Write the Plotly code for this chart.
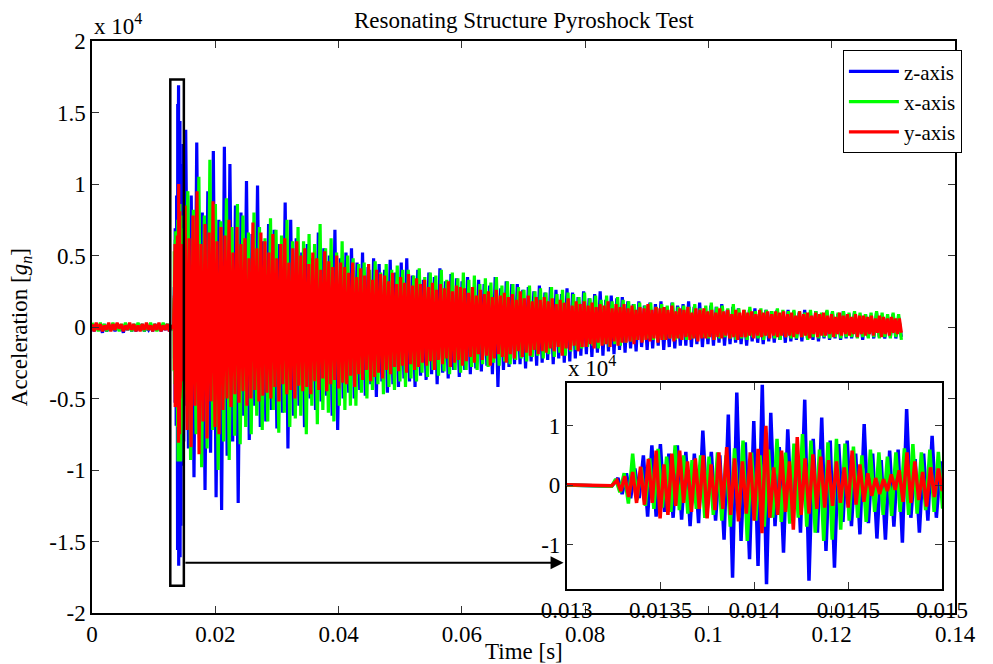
import numpy as np
import plotly.graph_objects as go

# ---------------- data (acceleration in units of 10^4 g_n) ----------------
# pre-trigger noise, 0 .. 0.01324 s
z_pre = [0.01,-0.03,0.02,-0.02,0.01,-0.04,0.02,-0.03,0.00,-0.02,0.02,-0.03,0.01,-0.02,0.01,-0.04,0.02,-0.02,0.01,-0.03,
         0.02,-0.03,0.01,-0.02,0.02,-0.03,0.00,-0.02,0.01,-0.03,0.02,-0.02,0.01,-0.03,0.01,-0.02,0.02,-0.03,0.01,-0.02]
x_pre = [0.03,-0.02,0.02,-0.03,0.03,-0.01,0.02,-0.03,0.01,-0.02,0.03,-0.02,0.02,-0.03,0.02,-0.01,0.03,-0.02,0.01,-0.03,
         0.02,-0.02,0.03,-0.01,0.02,-0.03,0.01,-0.02,0.03,-0.02,0.02,-0.03,0.01,-0.02,0.03,-0.01,0.02,-0.02,0.01,-0.02]
y_pre = [0.02,-0.03,0.03,-0.02,0.02,-0.03,0.01,-0.02,0.03,-0.03,0.02,-0.02,0.03,-0.01,0.02,-0.03,0.01,-0.02,0.03,-0.02,
         0.02,-0.03,0.01,-0.03,0.02,-0.02,0.03,-0.02,0.01,-0.03,0.02,-0.02,0.03,-0.03,0.01,-0.02,0.02,-0.03,0.01,-0.01]

# shock onset, ~0.01326 .. 0.015 s (peak / trough sequence)
z_burst = [0.12,-0.15,0.20,-0.22,0.28,-0.22,0.50,-0.53,0.67,-0.53,
           0.69,-0.45,0.53,-0.55,0.67,-0.58,0.56,-0.69,0.53,-0.64,
           0.92,-0.45,0.56,-0.60,0.50,-0.92,1.19,-1.56,1.56,-0.94,
           0.72,-1.25,1.08,-1.36,1.69,-1.67,1.22,-0.69,0.64,-1.14,
           0.94,-0.60,0.69,-0.80,1.44,-1.61,0.78,-0.80,1.14,-1.11,
           0.75,-1.39,0.69,-0.62,0.75,-0.69,0.53,-0.83,1.03,-0.64,
           0.53,-0.90,0.42,-0.92,0.58,-0.70,0.60,-0.97,1.28,-0.55,
           0.44,-0.80,0.53,-0.60,0.83,-0.55,0.40,-0.45]
x_burst = [0.10,-0.12,0.20,-0.31,0.53,-0.25,0.30,-0.35,0.45,-0.40,
           0.61,-0.38,0.48,-0.45,0.67,-0.42,0.50,-0.48,0.42,-0.40,
           0.50,-0.55,0.48,-0.50,0.55,-0.60,0.50,-0.70,0.62,-0.55,
           0.75,-0.94,0.55,-0.60,0.50,-0.70,0.60,-0.55,0.78,-0.62,
           0.55,-0.65,0.70,-0.55,0.86,-0.70,0.75,-0.80,0.60,-0.94,
           0.72,-0.92,0.78,-0.75,0.70,-0.60,0.65,-0.55,0.50,-0.62,
           0.60,-0.45,0.55,-0.50,0.48,-0.52,0.55,-0.45,0.62,-0.50,
           0.69,-0.48,0.55,-0.42,0.60,-0.45,0.56,-0.39]
y_burst = [0.08,-0.10,0.15,-0.20,0.22,-0.30,0.31,-0.33,0.44,-0.30,
           0.58,-0.56,0.35,-0.50,0.53,-0.35,0.58,-0.30,0.40,-0.45,
           0.45,-0.40,0.50,-0.56,0.35,-0.42,0.55,-0.40,0.64,-0.50,
           0.45,-0.61,0.40,-0.48,0.55,-0.60,0.61,-0.81,1.00,-0.55,
           0.30,-0.50,0.58,-0.45,0.40,-0.75,0.81,-0.50,0.45,-0.48,
           0.52,-0.40,0.48,-0.38,0.42,-0.35,0.40,-0.30,0.30,-0.38,
           0.58,-0.33,0.35,-0.28,0.20,-0.18,0.12,-0.15,0.10,-0.10,
           0.18,-0.08,0.25,-0.28,0.55,-0.30,0.40,-0.25,0.22,-0.36,
           0.30,-0.20,0.28,-0.10]

# decay, ~0.015 .. 0.1313 s
z_decay = [1.38,-0.85,0.92,-1.05,1.29,-0.78,0.80,-1.14,0.95,-0.88,1.23,-1.19,0.75,-1.28,1.26,-0.90,1.14,-0.80,0.85,-1.23,
           0.80,-0.62,1.02,-0.79,0.65,-0.55,0.99,-0.70,0.60,-0.66,0.72,-0.58,0.68,-0.71,0.58,-0.60,0.87,-0.85,0.75,-0.62,
           0.62,-0.55,0.52,-0.70,0.58,-0.50,0.48,-0.58,0.66,-0.52,0.55,-0.48,0.50,-0.62,0.68,-0.72,0.48,-0.50,0.52,-0.46,
           0.55,-0.50,0.45,-0.44,0.52,-0.48,0.42,-0.40,0.48,-0.49,0.44,-0.38,0.40,-0.46,0.47,-0.40,0.38,-0.42,0.45,-0.36,
           0.48,-0.38,0.36,-0.42,0.40,-0.34,0.33,-0.37,0.38,-0.33,0.35,-0.40,0.41,-0.32,0.32,-0.36,0.37,-0.30,0.34,-0.35,
           0.32,-0.30,0.35,-0.33,0.28,-0.29,0.33,-0.31,0.30,-0.27,0.29,-0.33,0.35,-0.42,0.27,-0.30,0.32,-0.28,0.30,-0.26,
           0.30,-0.26,0.26,-0.29,0.28,-0.24,0.25,-0.27,0.29,-0.25,0.24,-0.23,0.28,-0.26,0.26,-0.22,0.23,-0.25,0.27,-0.24,
           0.24,-0.22,0.21,-0.20,0.25,-0.19,0.20,-0.21,0.23,-0.18,0.25,-0.20,0.19,-0.17,0.22,-0.19,0.20,-0.16,0.21,-0.18,
           0.18,-0.15,0.16,-0.17,0.18,-0.14,0.15,-0.16,0.17,-0.15,0.16,-0.13,0.18,-0.16,0.14,-0.14,0.17,-0.15,0.15,-0.13,
           0.16,-0.13,0.18,-0.14,0.14,-0.12,0.17,-0.14,0.13,-0.12,0.15,-0.13,0.14,-0.11,0.16,-0.13,0.12,-0.12,0.14,-0.11,
           0.13,-0.12,0.11,-0.13,0.12,-0.10,0.13,-0.11,0.10,-0.12,0.12,-0.10,0.11,-0.11,0.12,-0.09,0.10,-0.11,0.12,-0.10,
           0.11,-0.09,0.10,-0.10,0.12,-0.08,0.10,-0.09,0.11,-0.10,0.09,-0.08,0.11,-0.09,0.10,-0.08,0.09,-0.09,0.11,-0.08,
           0.09,-0.08,0.10,-0.07,0.08,-0.09,0.09,-0.07,0.08,-0.08,0.10,-0.07,0.08,-0.08,0.07,-0.07,0.09,-0.08,0.07,-0.07]
x_decay = [0.95,-0.93,0.82,-0.75,1.05,-0.98,0.78,-0.85,1.17,-0.72,0.86,-1.00,0.74,-0.80,0.90,-0.93,0.70,-0.76,0.86,-0.82,
           0.78,-0.70,0.66,-0.75,0.80,-0.62,0.70,-0.72,0.62,-0.66,0.76,-0.58,0.68,-0.74,0.64,-0.60,0.75,-0.70,0.60,-0.64,
           0.70,-0.62,0.60,-0.75,0.65,-0.55,0.58,-0.68,0.72,-0.58,0.55,-0.60,0.62,-0.66,0.52,-0.55,0.60,-0.58,0.50,-0.55,
           0.48,-0.55,0.44,-0.46,0.45,-0.50,0.40,-0.44,0.46,-0.40,0.38,-0.47,0.44,-0.42,0.40,-0.44,0.43,-0.38,0.40,-0.42,
           0.40,-0.36,0.36,-0.38,0.41,-0.32,0.35,-0.35,0.38,-0.30,0.36,-0.34,0.40,-0.31,0.33,-0.33,0.38,-0.30,0.34,-0.32,
           0.38,-0.30,0.33,-0.28,0.36,-0.30,0.30,-0.26,0.34,-0.28,0.31,-0.25,0.35,-0.27,0.29,-0.24,0.32,-0.26,0.30,-0.23,
           0.28,-0.22,0.26,-0.24,0.29,-0.21,0.25,-0.20,0.27,-0.22,0.24,-0.19,0.28,-0.21,0.23,-0.18,0.26,-0.20,0.24,-0.17,
           0.23,-0.16,0.21,-0.15,0.24,-0.14,0.20,-0.13,0.22,-0.15,0.19,-0.12,0.22,-0.14,0.18,-0.12,0.21,-0.13,0.19,-0.11,
           0.18,-0.10,0.16,-0.09,0.17,-0.10,0.15,-0.08,0.17,-0.09,0.14,-0.08,0.16,-0.09,0.15,-0.08,0.17,-0.09,0.14,-0.08,
           0.15,-0.09,0.14,-0.08,0.16,-0.09,0.13,-0.07,0.15,-0.08,0.17,-0.09,0.14,-0.08,0.15,-0.07,0.13,-0.08,0.16,-0.09,
           0.13,-0.08,0.12,-0.09,0.14,-0.07,0.11,-0.08,0.13,-0.09,0.12,-0.07,0.11,-0.08,0.13,-0.09,0.12,-0.07,0.11,-0.08,
           0.12,-0.08,0.11,-0.07,0.10,-0.09,0.12,-0.07,0.11,-0.08,0.10,-0.07,0.12,-0.08,0.11,-0.07,0.10,-0.08,0.11,-0.07,
           0.10,-0.07,0.11,-0.08,0.10,-0.07,0.09,-0.08,0.10,-0.07,0.11,-0.08,0.10,-0.07,0.09,-0.08,0.10,-0.07,0.09,-0.09]
y_decay = [0.85,-0.72,0.62,-0.84,0.78,-0.55,0.95,-0.89,0.58,-0.66,0.72,-0.78,0.66,-0.52,0.88,-0.70,0.60,-0.75,0.70,-0.58,
           0.64,-0.50,0.75,-0.56,0.52,-0.47,0.70,-0.53,0.58,-0.45,0.62,-0.55,0.48,-0.50,0.73,-0.44,0.55,-0.52,0.66,-0.48,
           0.60,-0.46,0.52,-0.50,0.65,-0.42,0.48,-0.52,0.58,-0.40,0.62,-0.47,0.45,-0.44,0.55,-0.50,0.60,-0.41,0.50,-0.45,
           0.55,-0.42,0.44,-0.47,0.52,-0.38,0.48,-0.44,0.40,-0.36,0.53,-0.45,0.46,-0.40,0.42,-0.37,0.50,-0.43,0.45,-0.39,
           0.42,-0.40,0.38,-0.34,0.45,-0.42,0.35,-0.33,0.41,-0.37,0.36,-0.30,0.44,-0.38,0.33,-0.35,0.40,-0.32,0.37,-0.36,
           0.36,-0.30,0.32,-0.33,0.38,-0.28,0.30,-0.31,0.35,-0.27,0.31,-0.32,0.37,-0.26,0.29,-0.30,0.34,-0.28,0.30,-0.25,
           0.33,-0.27,0.28,-0.24,0.31,-0.30,0.26,-0.23,0.30,-0.26,0.27,-0.22,0.32,-0.28,0.25,-0.25,0.29,-0.23,0.28,-0.27,
           0.27,-0.24,0.24,-0.21,0.28,-0.25,0.22,-0.19,0.26,-0.23,0.23,-0.20,0.25,-0.27,0.21,-0.22,0.26,-0.19,0.22,-0.21,
           0.24,-0.25,0.21,-0.19,0.23,-0.22,0.19,-0.17,0.25,-0.21,0.20,-0.18,0.22,-0.20,0.18,-0.16,0.21,-0.19,0.19,-0.17,
           0.21,-0.18,0.18,-0.15,0.20,-0.17,0.16,-0.14,0.19,-0.20,0.17,-0.15,0.20,-0.16,0.15,-0.13,0.18,-0.17,0.16,-0.14,
           0.18,-0.14,0.15,-0.12,0.17,-0.15,0.14,-0.11,0.16,-0.13,0.15,-0.12,0.18,-0.14,0.13,-0.10,0.16,-0.13,0.14,-0.11,
           0.16,-0.11,0.13,-0.10,0.15,-0.12,0.12,-0.09,0.14,-0.11,0.13,-0.09,0.16,-0.10,0.12,-0.08,0.14,-0.11,0.13,-0.09,
           0.14,-0.09,0.12,-0.08,0.15,-0.10,0.11,-0.08,0.13,-0.09,0.12,-0.07,0.14,-0.09,0.10,-0.08,0.13,-0.10,0.12,-0.08,
           0.13,-0.08,0.11,-0.07,0.12,-0.09,0.10,-0.07,0.13,-0.08,0.11,-0.06,0.12,-0.08,0.09,-0.07,0.12,-0.09,0.10,-0.07,
           0.12,-0.07,0.10,-0.06,0.11,-0.08,0.09,-0.06,0.12,-0.07,0.10,-0.06,0.11,-0.08,0.09,-0.06,0.11,-0.07,0.10,-0.06,
           0.11,-0.07,0.09,-0.06,0.10,-0.07,0.08,-0.05,0.11,-0.07,0.09,-0.06,0.10,-0.08,0.08,-0.05,0.10,-0.07,0.09,-0.06,
           0.10,-0.06,0.08,-0.05,0.09,-0.07,0.07,-0.05,0.10,-0.06,0.08,-0.05,0.09,-0.06,0.07,-0.05,0.09,-0.07,0.08,-0.05,
           0.08,-0.06,0.07,-0.05,0.08,-0.06,0.06,-0.04,0.08,-0.07,0.07,-0.05,0.06,-0.06,0.07,-0.04,0.06,-0.05,0.06,-0.04]

# sampling instants (s)
t_pre = np.linspace(0.0, 0.01324, len(z_pre))
t_z_burst = 0.013273 + 2.261e-5 * np.arange(len(z_burst))
t_x_burst = 0.013261 + 2.261e-5 * np.arange(len(x_burst))
t_y_burst = 0.013268 + 2.087e-5 * np.arange(len(y_burst))
t_z_decay = np.linspace(0.0152, 0.1313, len(z_decay))
t_x_decay = np.linspace(0.01555, 0.1313, len(x_decay))
t_y_decay = np.linspace(0.0151, 0.1313, len(y_decay))

series = [
    ("z-axis", "#0000FF", np.concatenate([t_pre, t_z_burst, t_z_decay]), z_pre + z_burst + z_decay),
    ("x-axis", "#00FF00", np.concatenate([t_pre, t_x_burst, t_x_decay]), x_pre + x_burst + x_decay),
    ("y-axis", "#FF0000", np.concatenate([t_pre, t_y_burst, t_y_decay]), y_pre + y_burst + y_decay),
]

main_xticks = [0, 0.02, 0.04, 0.06, 0.08, 0.1, 0.12, 0.14]
main_xlabels = ["0", "0.02", "0.04", "0.06", "0.08", "0.1", "0.12", "0.14"]
main_yticks = [-2, -1.5, -1, -0.5, 0, 0.5, 1, 1.5, 2]
main_ylabels = ["-2", "-1.5", "-1", "-0.5", "0", "0.5", "1", "1.5", "2"]
inset_xticks = [0.013, 0.0135, 0.014, 0.0145, 0.015]
inset_xlabels = ["0.013", "0.0135", "0.014", "0.0145", "0.015"]
inset_yticks = [-1, 0, 1]
inset_ylabels = ["-1", "0", "1"]

# ---------------- figure ----------------
FONT = "Liberation Serif"
FS = 23
fig = go.Figure()
for name, color, t, v in series:
    fig.add_trace(go.Scatter(x=t, y=v, mode="lines", name=name,
                             line=dict(color=color, width=3.2),
                             xaxis="x", yaxis="y"))
for name, color, t, v in series:
    fig.add_trace(go.Scatter(x=t, y=v, mode="lines", name=name, showlegend=False,
                             line=dict(color=color, width=3.5),
                             xaxis="x2", yaxis="y2"))

axis_common = dict(ticks="inside", ticklen=7, tickwidth=1, tickcolor="#333",
                   showline=True, linecolor="black", linewidth=1.5, mirror="ticks",
                   showgrid=False, zeroline=False,
                   tickfont=dict(family=FONT, size=FS, color="black"))

fig.update_layout(
    width=993, height=664,
    margin=dict(l=92, r=21, t=41, b=51),
    paper_bgcolor="white", plot_bgcolor="white",
    font=dict(family=FONT, size=FS, color="black"),
    xaxis=dict(domain=[0, 1], range=[0, 0.14], tickvals=main_xticks, ticktext=main_xlabels,
               anchor="y", **axis_common),
    yaxis=dict(domain=[0, 1], range=[-2, 2], tickvals=main_yticks, ticktext=main_ylabels,
               anchor="x", **axis_common),
    xaxis2=dict(domain=[0.55, 0.9852], range=[0.013, 0.015], tickvals=inset_xticks,
                ticktext=inset_xlabels, anchor="y2", **axis_common),
    yaxis2=dict(domain=[0.042, 0.402], range=[-1.75, 1.72], tickvals=inset_yticks,
                ticktext=inset_ylabels, anchor="x2", **axis_common),
    showlegend=True,
    legend=dict(x=1.008, y=0.984, xanchor="right", yanchor="top",
                bgcolor="white", bordercolor="black", borderwidth=1,
                font=dict(family=FONT, size=21, color="black"),
                tracegroupgap=0, itemwidth=50),
    shapes=[dict(type="rect", xref="x", yref="y", x0=0.0127, x1=0.0149, y0=-1.81, y1=1.73,
                 line=dict(color="black", width=2.5), fillcolor="rgba(0,0,0,0)", layer="above")],
    annotations=[
        dict(text="Resonating Structure Pyroshock Test", xref="paper", yref="paper",
             x=0.5, y=1.035, xanchor="center", yanchor="middle", showarrow=False,
             font=dict(family=FONT, size=FS)),
        dict(text="x 10<sup>4</sup>", xref="paper", yref="paper", x=0.0, y=1.0,
             xanchor="left", yanchor="bottom", showarrow=False, font=dict(family=FONT, size=FS)),
        dict(text="x 10<sup>4</sup>", xref="paper", yref="paper", x=0.549, y=0.402,
             xanchor="left", yanchor="bottom", showarrow=False, font=dict(family=FONT, size=FS)),
        dict(text="Time [s]", xref="paper", yref="paper", x=0.5, y=-0.068,
             xanchor="center", yanchor="middle", showarrow=False, font=dict(family=FONT, size=FS)),
        dict(text="Acceleration [<i>g</i><sub><i>n</i></sub>]", xref="paper", yref="paper",
             x=-0.082, y=0.5, xanchor="center", yanchor="middle", textangle=-90,
             showarrow=False, font=dict(family=FONT, size=FS)),
        dict(text="", x=0.0765, y=-1.649, xref="x", yref="y", ax=0.0149, ay=-1.649,
             axref="x", ayref="y", showarrow=True, arrowhead=2, arrowsize=1.3,
             arrowwidth=2, arrowcolor="black", standoff=0, startstandoff=0),
    ],
)

fig.write_html("out.html")
